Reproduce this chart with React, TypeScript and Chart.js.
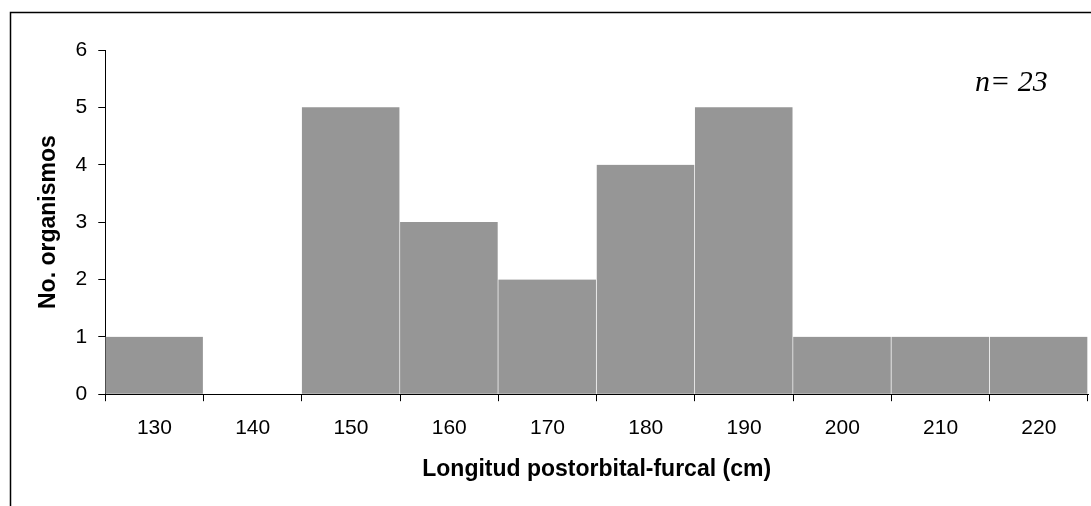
import React, { useEffect, useRef } from "react";
import { Chart, registerables } from "chart.js";

Chart.register(...registerables);

const categories = ["130", "140", "150", "160", "170", "180", "190", "200", "210", "220"];
const counts = [1, 0, 5, 3, 2, 4, 5, 1, 1, 1];
const xTitle = "Longitud postorbital-furcal (cm)";
const yTitle = "No. organismos";
const annotation = "n= 23";

const framePlugin = {
  id: "frame",
  afterDraw(chart: any) {
    const ctx = chart.ctx;
    ctx.save();
    ctx.strokeStyle = "#000";
    ctx.lineWidth = 1.5;
    ctx.strokeRect(10.5, 12.5, 1200, 600);
    ctx.fillStyle = "#000";
    ctx.font = 'italic 30px "Liberation Serif", "DejaVu Serif", serif';
    ctx.textAlign = "left";
    ctx.textBaseline = "alphabetic";
    ctx.fillText(annotation, 975, 91);
    ctx.restore();
  },
};

export default function App() {
  const ref = useRef<HTMLCanvasElement | null>(null);
  useEffect(() => {
    if (!ref.current) return;
    const chart = new Chart(ref.current, {
      type: "bar",
      data: {
        labels: categories,
        datasets: [
          {
            data: counts,
            backgroundColor: "#969696",
            borderColor: "#ffffff",
            borderWidth: { left: 0, right: 1, top: 0, bottom: 0 },
            borderSkipped: false,
            barPercentage: 1,
            categoryPercentage: 1,
          },
        ],
      },
      plugins: [framePlugin],
      options: {
        animation: false,
        responsive: false,
        maintainAspectRatio: false,
        layout: { padding: { left: 35, right: 3, top: 50, bottom: 23 } },
        plugins: { legend: { display: false }, tooltip: { enabled: false } },
        scales: {
          x: {
            offset: true,
            grid: {
              display: true,
              offset: true,
              drawOnChartArea: false,
              drawTicks: true,
              tickLength: 7,
              color: "#000",
            },
            border: { display: true, color: "#000", width: 1 },
            ticks: {
              color: "#000",
              padding: 14,
              font: { family: '"Liberation Sans", Arial, sans-serif', size: 21 },
            },
            title: {
              display: true,
              text: xTitle,
              color: "#000",
              padding: { top: 1, bottom: 0 },
              font: { family: '"Liberation Sans", Arial, sans-serif', size: 23, weight: "bold" },
            },
          },
          y: {
            min: 0,
            max: 6,
            grid: {
              display: true,
              drawOnChartArea: false,
              drawTicks: true,
              tickLength: 7,
              color: "#000",
            },
            border: { display: true, color: "#000", width: 1 },
            ticks: {
              stepSize: 1,
              color: "#000",
              padding: 11,
              font: { family: '"Liberation Sans", Arial, sans-serif', size: 21 },
            },
            title: {
              display: true,
              text: yTitle,
              color: "#000",
              padding: { top: 0, bottom: 2 },
              font: { family: '"Liberation Sans", Arial, sans-serif', size: 23, weight: "bold" },
            },
          },
        },
      },
    });
    return () => chart.destroy();
  }, []);
  return (
    <div style={{ position: "absolute", left: 0, top: 0, width: 1091, height: 506, background: "#fff" }}>
      <canvas ref={ref} width={1091} height={506} style={{ display: "block" }} />
    </div>
  );
}
